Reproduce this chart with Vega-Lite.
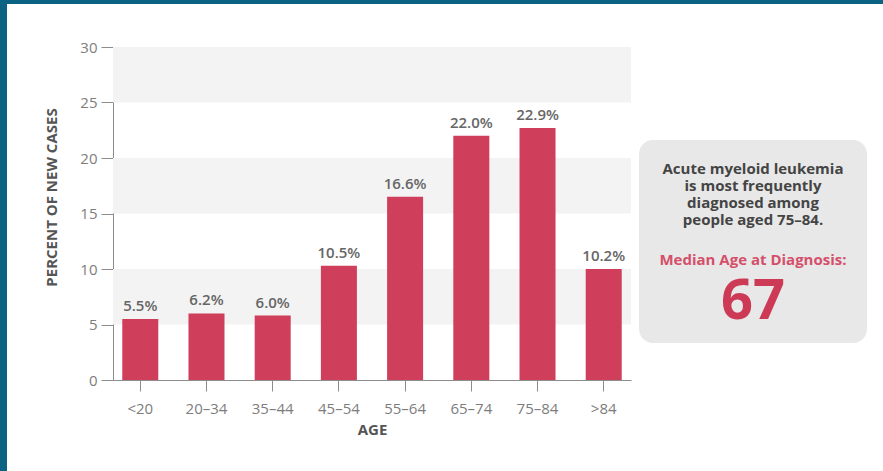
{
  "$schema": "https://vega.github.io/schema/vega-lite/v6.json",
  "background": "white",
  "padding": 0,
  "spacing": 0,
  "config": {
    "view": {"stroke": null},
    "font": "Open Sans",
    "axis": {
      "grid": false,
      "domainColor": "#8c8c8c",
      "tickColor": "#8c8c8c",
      "labelColor": "#7d7d7d",
      "labelFont": "Open Sans",
      "labelFontSize": 15,
      "titleFont": "Open Sans",
      "titleFontSize": 15,
      "titleFontWeight": "bold",
      "titleColor": "#555555"
    },
    "axisY": {"tickSize": 12, "labelPadding": 4, "titlePadding": 20, "tickCount": 7, "titleY": 150},
    "axisX": {"tickSize": 11, "labelPadding": 10, "titlePadding": 6, "labelAngle": 0}
  },
  "vconcat": [
    {
      "width": 883,
      "height": 4,
      "view": {"fill": "#0b6383", "stroke": null},
      "data": {"values": []},
      "mark": "point",
      "encoding": {}
    },
    {
      "spacing": 8,
      "hconcat": [
        {
          "width": 7,
          "height": 467,
          "view": {"fill": "#0b6383", "stroke": null},
          "data": {"values": []},
          "mark": "point",
          "encoding": {}
        },
        {
          "width": 21,
          "height": 10,
          "view": {"fill": "#ffffff", "stroke": null},
          "data": {"values": []},
          "mark": "point",
          "encoding": {}
        },
        {
          "spacing": 0,
          "vconcat": [
            {
              "width": 10,
              "height": 36,
              "view": {"fill": "#ffffff", "stroke": null},
              "data": {"values": []},
              "mark": "point",
              "encoding": {}
            },
            {
              "width": 518,
              "height": 333,
              "layer": [
                {
                  "data": {"values": [{"lo": 5, "hi": 10}, {"lo": 15, "hi": 20}, {"lo": 25, "hi": 30}]},
                  "mark": {"type": "rect", "fill": "#f3f3f3"},
                  "encoding": {
                    "y": {"field": "lo", "type": "quantitative", "scale": {"domain": [0, 30], "nice": false}, "title": "PERCENT OF NEW CASES"},
                    "y2": {"field": "hi"}
                  }
                },
                {
                  "data": {
                    "values": [
                      {"age": "<20", "pct": 5.5, "label": "5.5%"},
                      {"age": "20–34", "pct": 6.0, "label": "6.2%"},
                      {"age": "35–44", "pct": 5.8, "label": "6.0%"},
                      {"age": "45–54", "pct": 10.3, "label": "10.5%"},
                      {"age": "55–64", "pct": 16.5, "label": "16.6%"},
                      {"age": "65–74", "pct": 22.0, "label": "22.0%"},
                      {"age": "75–84", "pct": 22.7, "label": "22.9%"},
                      {"age": ">84", "pct": 10.0, "label": "10.2%"}
                    ]
                  },
                  "encoding": {
                    "x": {"field": "age", "type": "nominal", "sort": null, "title": "AGE", "scale": {"paddingInner": 0.456, "paddingOuter": 0.14}},
                    "y": {"field": "pct", "type": "quantitative", "scale": {"domain": [0, 30], "nice": false}, "title": "PERCENT OF NEW CASES"}
                  },
                  "layer": [
                    {"mark": {"type": "bar", "color": "#cf3f5b"}},
                    {
                      "mark": {"type": "text", "dy": -13, "fontSize": 15, "fontWeight": 600, "color": "#666666", "baseline": "middle", "font": "Open Sans"},
                      "encoding": {"text": {"field": "label"}}
                    }
                  ]
                }
              ]
            }
          ]
        },
        {
          "spacing": 0,
          "vconcat": [
            {
              "width": 10,
              "height": 136,
              "view": {"fill": "#ffffff", "stroke": null},
              "data": {"values": []},
              "mark": "point",
              "encoding": {}
            },
            {
              "width": 228,
              "height": 203,
              "view": {"fill": "#e8e8e8", "cornerRadius": 14, "stroke": null},
              "data": {
                "values": [
                  {"part": "body", "text": "Acute myeloid leukemia\nis most frequently\ndiagnosed among\npeople aged 75–84."},
                  {"part": "label", "text": "Median Age at Diagnosis:"},
                  {"part": "median", "text": "67"}
                ]
              },
              "layer": [
                {
                  "transform": [{"filter": "datum.part === 'body'"}],
                  "mark": {"type": "text", "lineBreak": "\n", "lineHeight": 17, "fontSize": 15, "fontWeight": "bold", "color": "#444444", "dy": -73, "align": "center", "baseline": "middle", "font": "Open Sans"},
                  "encoding": {"text": {"field": "text"}}
                },
                {
                  "transform": [{"filter": "datum.part === 'label'"}],
                  "mark": {"type": "text", "fontSize": 15, "fontWeight": "bold", "color": "#d4506a", "dy": 18, "align": "center", "baseline": "middle", "font": "Open Sans"},
                  "encoding": {"text": {"field": "text"}}
                },
                {
                  "transform": [{"filter": "datum.part === 'median'"}],
                  "mark": {"type": "text", "fontSize": 56, "fontWeight": "bold", "color": "#cc3a55", "dy": 60, "align": "center", "baseline": "middle", "font": "Open Sans"},
                  "encoding": {"text": {"field": "text"}}
                }
              ]
            }
          ]
        }
      ]
    }
  ]
}
